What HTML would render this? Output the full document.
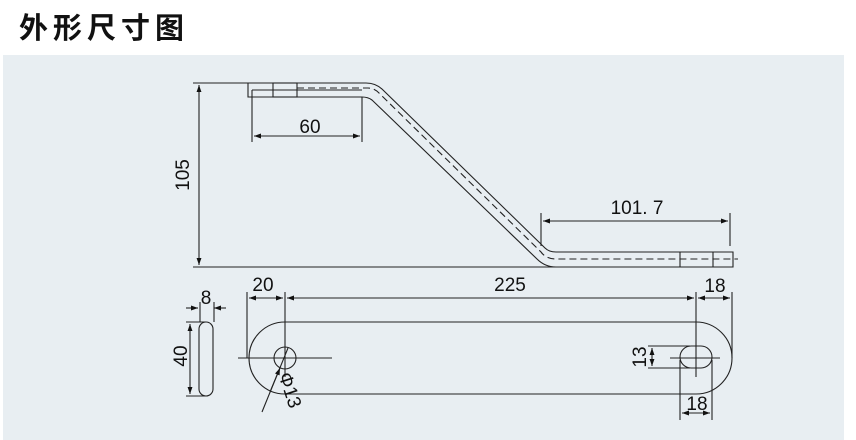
<!DOCTYPE html>
<html><head><meta charset="utf-8"><style>
body{margin:0;width:856px;height:440px;background:#fff;overflow:hidden;position:relative;font-family:"Liberation Sans","Noto Sans CJK SC",sans-serif}
.t{position:absolute;left:19px;top:5px;font-size:29px;font-weight:bold;letter-spacing:5px;color:#111;font-family:"Noto Sans CJK SC",sans-serif}
.p{position:absolute;left:3px;top:55px;width:841px;height:385px;background:#e8eef2}
svg{position:absolute;left:0;top:0}
</style></head><body>
<div class="t">外形尺寸图</div>
<div class="p"></div>
<svg width="856" height="440" viewBox="0 0 856 440" font-family="Liberation Sans, sans-serif" font-size="19" fill="#111">
<defs><marker id="a" viewBox="0 0 10 10" refX="10" refY="5" markerWidth="9" markerHeight="7" orient="auto-start-reverse" markerUnits="userSpaceOnUse"><path d="M0,1.5L10,5L0,8.5z" fill="#111"/></marker></defs>
<g stroke="#222" stroke-width="1.1" fill="none">
<line x1="193" y1="83" x2="250" y2="83"/>
<line x1="193" y1="267" x2="570" y2="267"/>
<line x1="199" y1="85" x2="199" y2="265" marker-start="url(#a)" marker-end="url(#a)"/>
<path d="M248,83 L366,83 Q376,83 383,90 L545,248 Q549,252 556,252 L733,252 L733,267 L556,267 Q545,267 537,259 L372,100 Q368,97 362,97 L248,97 Z"/>
<line x1="252" y1="90" x2="362" y2="90"/>
<line x1="252" y1="90" x2="252" y2="97"/>
<rect x="273" y="83" width="24" height="14"/>
<path d="M297,88 L368,88 Q374,88 379,93 L541,252 Q546,259 556,259 L738,259" stroke-dasharray="7,4"/>
<line x1="680" y1="252" x2="680" y2="267"/>
<line x1="713" y1="252" x2="713" y2="267"/>
<line x1="252" y1="97" x2="252" y2="142"/>
<line x1="362" y1="97" x2="362" y2="142"/>
<line x1="254" y1="136" x2="360" y2="136" marker-start="url(#a)" marker-end="url(#a)"/>
<line x1="541" y1="213" x2="541" y2="246"/>
<line x1="730" y1="213" x2="730" y2="246"/>
<line x1="543" y1="221" x2="728" y2="221" marker-start="url(#a)" marker-end="url(#a)"/>
<rect x="199" y="322" width="14" height="74" rx="7"/>
<line x1="186" y1="308" x2="198" y2="308" marker-end="url(#a)"/>
<line x1="226" y1="308" x2="214" y2="308" marker-end="url(#a)"/>
<line x1="200" y1="302" x2="200" y2="322"/>
<line x1="214" y1="302" x2="214" y2="322"/>
<line x1="186" y1="322" x2="206" y2="322"/>
<line x1="186" y1="396" x2="206" y2="396"/>
<line x1="190" y1="324" x2="190" y2="394" marker-start="url(#a)" marker-end="url(#a)"/>
<path d="M285,322 L696,322 A36,36 0 0 1 696,394 L285,394 A36,36 0 0 1 285,322 Z"/>
<circle cx="285" cy="358" r="11"/>
<line x1="238" y1="358" x2="332" y2="358"/>
<line x1="285" y1="292" x2="285" y2="377"/>
<line x1="247" y1="292" x2="247" y2="358"/>
<line x1="696" y1="292" x2="696" y2="377"/>
<line x1="732" y1="292" x2="732" y2="358"/>
<line x1="249" y1="298" x2="283" y2="298" marker-start="url(#a)" marker-end="url(#a)"/>
<line x1="287" y1="298" x2="694" y2="298" marker-start="url(#a)" marker-end="url(#a)"/>
<line x1="698" y1="298" x2="730" y2="298" marker-start="url(#a)" marker-end="url(#a)"/>
<rect x="680" y="346" width="32" height="22" rx="11"/>
<line x1="670" y1="358" x2="720" y2="358"/>
<line x1="648" y1="346" x2="690" y2="346"/>
<line x1="648" y1="368" x2="690" y2="368"/>
<line x1="652" y1="348" x2="652" y2="366" marker-start="url(#a)" marker-end="url(#a)"/>
<line x1="680" y1="360" x2="680" y2="420"/>
<line x1="712" y1="360" x2="712" y2="420"/>
<line x1="682" y1="413" x2="710" y2="413" marker-start="url(#a)" marker-end="url(#a)"/>
<line x1="262" y1="412" x2="288" y2="348"/>
<line x1="270" y1="392" x2="280" y2="368" marker-end="url(#a)"/>
</g>
<text x="310" y="133" text-anchor="middle">60</text>
<text x="637" y="214" text-anchor="middle">101. 7</text>
<text transform="translate(189,175) rotate(-90)" text-anchor="middle">105</text>
<text x="263" y="291" text-anchor="middle">20</text>
<text x="510" y="291" text-anchor="middle">225</text>
<text x="715" y="292" text-anchor="middle">18</text>
<text x="206" y="304" text-anchor="middle">8</text>
<text transform="translate(187,356) rotate(-90)" text-anchor="middle">40</text>
<text transform="translate(646,357) rotate(-90)" text-anchor="middle">13</text>
<text x="697" y="410" text-anchor="middle">18</text>
<text transform="translate(284,392) rotate(72)" text-anchor="middle">Φ13</text>
</svg>
</body></html>
